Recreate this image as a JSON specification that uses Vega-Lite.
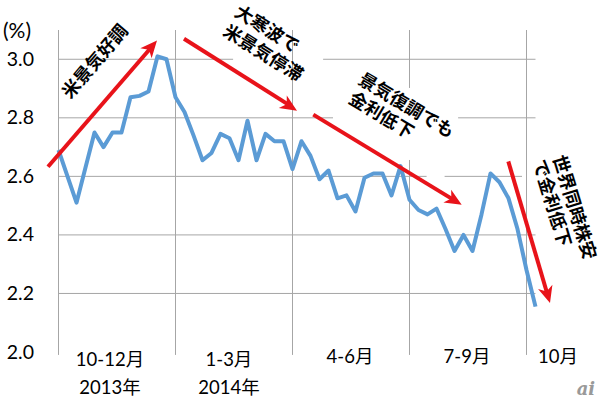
{
  "$schema": "https://vega.github.io/schema/vega-lite/v6.json",
  "width": 477,
  "height": 322,
  "autosize": {"type": "none"},
  "padding": {"left": 58.5, "top": 30, "right": 64.5, "bottom": 55},
  "background": "white",
  "config": {
    "view": {"stroke": null},
    "axisX": {"disable": true},
    "axisY": {
      "grid": false, "domain": false, "ticks": false,
      "labelPadding": 25, "labelFont": "Lato", "labelFontSize": 19.5, "labelColor": "#000000"
    }
  },
  "datasets": {
    "yields": [
      {"week": 0, "pct": 2.69}, {"week": 1, "pct": 2.60}, {"week": 2, "pct": 2.51}, {"week": 3, "pct": 2.63},
      {"week": 4, "pct": 2.75}, {"week": 5, "pct": 2.70}, {"week": 6, "pct": 2.75}, {"week": 7, "pct": 2.75},
      {"week": 8, "pct": 2.87}, {"week": 9, "pct": 2.875}, {"week": 10, "pct": 2.89}, {"week": 11, "pct": 3.01},
      {"week": 12, "pct": 3.00}, {"week": 13, "pct": 2.87}, {"week": 14, "pct": 2.82}, {"week": 15, "pct": 2.74},
      {"week": 16, "pct": 2.655}, {"week": 17, "pct": 2.68}, {"week": 18, "pct": 2.745}, {"week": 19, "pct": 2.73},
      {"week": 20, "pct": 2.655}, {"week": 21, "pct": 2.79}, {"week": 22, "pct": 2.655}, {"week": 23, "pct": 2.745},
      {"week": 24, "pct": 2.72}, {"week": 25, "pct": 2.72}, {"week": 26, "pct": 2.625}, {"week": 27, "pct": 2.72},
      {"week": 28, "pct": 2.67}, {"week": 29, "pct": 2.59}, {"week": 30, "pct": 2.62}, {"week": 31, "pct": 2.525},
      {"week": 32, "pct": 2.535}, {"week": 33, "pct": 2.48}, {"week": 34, "pct": 2.595}, {"week": 35, "pct": 2.61},
      {"week": 36, "pct": 2.61}, {"week": 37, "pct": 2.535}, {"week": 38, "pct": 2.635}, {"week": 39, "pct": 2.52},
      {"week": 40, "pct": 2.485}, {"week": 41, "pct": 2.47}, {"week": 42, "pct": 2.49}, {"week": 43, "pct": 2.42},
      {"week": 44, "pct": 2.345}, {"week": 45, "pct": 2.40}, {"week": 46, "pct": 2.345}, {"week": 47, "pct": 2.47},
      {"week": 48, "pct": 2.61}, {"week": 49, "pct": 2.58}, {"week": 50, "pct": 2.525}, {"week": 51, "pct": 2.42},
      {"week": 52, "pct": 2.28}, {"week": 53, "pct": 2.155}
    ],
    "hgrid": [
      {"level": 3.0, "from": 0, "to": 19.4}, {"level": 3.0, "from": 29.4, "to": 53},
      {"level": 2.8, "from": 0, "to": 30.5}, {"level": 2.8, "from": 44.4, "to": 53},
      {"level": 2.6, "from": 0, "to": 40.9}, {"level": 2.6, "from": 42.9, "to": 51.5},
      {"level": 2.4, "from": 0, "to": 53},
      {"level": 2.2, "from": 0, "to": 53}
    ],
    "vgrid": [
      {"pos": 0, "lo": 1.99, "hi": 3.1},
      {"pos": 13, "lo": 1.99, "hi": 3.1},
      {"pos": 26, "lo": 1.99, "hi": 3.1},
      {"pos": 39, "lo": 1.99, "hi": 2.656}, {"pos": 39, "lo": 2.902, "hi": 3.1},
      {"pos": 52, "lo": 1.99, "hi": 3.1}
    ],
    "arrows": [
      {"id": 1, "x1": -1.167, "y1": 2.633, "x2": 10.367, "y2": 3.043, "tx": 10.944, "ty": 3.064},
      {"id": 2, "x1": 13.944, "y1": 3.070, "x2": 25.856, "y2": 2.839, "tx": 26.5, "ty": 2.824},
      {"id": 3, "x1": 28.311, "y1": 2.811, "x2": 44.044, "y2": 2.517, "tx": 44.8, "ty": 2.503},
      {"id": 4, "x1": 49.978, "y1": 2.651, "x2": 54.356, "y2": 2.194, "tx": 54.611, "ty": 2.167}
    ],
    "cats": [
      {"label": "10-12月", "x": 5.72, "y": 1.974},
      {"label": "2013年", "x": 5.72, "y": 1.878},
      {"label": "1-3月", "x": 18.94, "y": 1.974},
      {"label": "2014年", "x": 18.94, "y": 1.878},
      {"label": "4-6月", "x": 32.39, "y": 1.984},
      {"label": "7-9月", "x": 45.39, "y": 1.984},
      {"label": "10月", "x": 55.5, "y": 1.984}
    ]
  },
  "layer": [
    {
      "data": {"name": "hgrid"},
      "mark": {"type": "rule", "color": "#a6a6a6", "strokeWidth": 1},
      "encoding": {
        "x": {"field": "from", "type": "quantitative", "scale": {"domain": [0, 53], "nice": false, "zero": false}, "axis": null},
        "x2": {"field": "to"},
        "y": {
          "field": "level", "type": "quantitative",
          "scale": {"domain": [2, 3.1], "nice": false, "zero": false},
          "axis": {
            "values": [2.0, 2.2, 2.4, 2.6, 2.8, 3.0], "format": ".1f", "title": "(%)",
            "titleAngle": 0, "titleX": -56, "titleY": 1, "titleAlign": "left",
            "titleBaseline": "middle", "titleFont": "Lato", "titleFontSize": 21, "titleFontWeight": "normal",
            "titleColor": "#000000"
          }
        }
      }
    },
    {
      "data": {"name": "vgrid"},
      "mark": {"type": "rule", "color": "#a6a6a6", "strokeWidth": 1},
      "encoding": {
        "x": {"field": "pos", "type": "quantitative", "axis": null},
        "y": {"field": "lo", "type": "quantitative"},
        "y2": {"field": "hi"}
      }
    },
    {
      "data": {"name": "yields"},
      "mark": {"type": "line", "color": "#5b9bd5", "strokeWidth": 4, "strokeJoin": "round"},
      "encoding": {
        "x": {"field": "week", "type": "quantitative", "axis": null},
        "y": {"field": "pct", "type": "quantitative"}
      }
    },
    {
      "data": {"name": "arrows"},
      "mark": {"type": "rule", "color": "#e8131a", "strokeWidth": 4, "strokeCap": "butt"},
      "encoding": {
        "x": {"field": "x1", "type": "quantitative", "axis": null},
        "y": {"field": "y1", "type": "quantitative"},
        "x2": {"field": "x2"},
        "y2": {"field": "y2"}
      }
    },
    {
      "data": {"name": "arrows"},
      "transform": [{"filter": "datum.id == 1"}],
      "mark": {"type": "point", "shape": "M0,0L0.8,1.8L0,1.3L-0.8,1.8Z", "size": 350, "filled": true, "opacity": 1, "strokeWidth": 0, "color": "#e8131a", "angle": 40.9},
      "encoding": {"x": {"field": "tx", "type": "quantitative", "axis": null}, "y": {"field": "ty", "type": "quantitative"}}
    },
    {
      "data": {"name": "arrows"},
      "transform": [{"filter": "datum.id == 2"}],
      "mark": {"type": "point", "shape": "M0,0L0.8,1.8L0,1.3L-0.8,1.8Z", "size": 350, "filled": true, "opacity": 1, "strokeWidth": 0, "color": "#e8131a", "angle": 122.3},
      "encoding": {"x": {"field": "tx", "type": "quantitative", "axis": null}, "y": {"field": "ty", "type": "quantitative"}}
    },
    {
      "data": {"name": "arrows"},
      "transform": [{"filter": "datum.id == 3"}],
      "mark": {"type": "point", "shape": "M0,0L0.8,1.8L0,1.3L-0.8,1.8Z", "size": 350, "filled": true, "opacity": 1, "strokeWidth": 0, "color": "#e8131a", "angle": 121.2},
      "encoding": {"x": {"field": "tx", "type": "quantitative", "axis": null}, "y": {"field": "ty", "type": "quantitative"}}
    },
    {
      "data": {"name": "arrows"},
      "transform": [{"filter": "datum.id == 4"}],
      "mark": {"type": "point", "shape": "M0,0L0.8,1.8L0,1.3L-0.8,1.8Z", "size": 350, "filled": true, "opacity": 1, "strokeWidth": 0, "color": "#e8131a", "angle": 163.6},
      "encoding": {"x": {"field": "tx", "type": "quantitative", "axis": null}, "y": {"field": "ty", "type": "quantitative"}}
    },
    {
      "data": {"name": "cats"},
      "mark": {"type": "text", "font": "Lato, Noto Sans CJK JP", "fontSize": 18.5, "color": "#000000", "align": "center", "baseline": "middle"},
      "encoding": {
        "x": {"field": "x", "type": "quantitative", "axis": null},
        "y": {"field": "y", "type": "quantitative"},
        "text": {"field": "label"}
      }
    },
    {
      "data": {"values": [{"t": "米景気好調", "x": 4.17, "y": 2.99}]},
      "mark": {"type": "text", "font": "Noto Sans CJK JP", "fontWeight": "bold", "fontSize": 18, "color": "#000000", "align": "center", "baseline": "middle", "angle": -49.5},
      "encoding": {"x": {"field": "x", "type": "quantitative", "axis": null}, "y": {"field": "y", "type": "quantitative"}, "text": {"field": "t"}}
    },
    {
      "data": {"values": [{"t": "大寒波で", "x": 23.1, "y": 3.1}, {"t": "米景気停滞", "x": 22.67, "y": 3.018}]},
      "mark": {"type": "text", "font": "Noto Sans CJK JP", "fontWeight": "bold", "fontSize": 18, "color": "#000000", "align": "center", "baseline": "middle", "angle": 32},
      "encoding": {"x": {"field": "x", "type": "quantitative", "axis": null}, "y": {"field": "y", "type": "quantitative"}, "text": {"field": "t"}}
    },
    {
      "data": {"values": [{"t": "景気復調でも", "x": 38.6, "y": 2.839}, {"t": "金利低下", "x": 35.8, "y": 2.805}]},
      "mark": {"type": "text", "font": "Noto Sans CJK JP", "fontWeight": "bold", "fontSize": 18, "color": "#000000", "align": "center", "baseline": "middle", "angle": 31},
      "encoding": {"x": {"field": "x", "type": "quantitative", "axis": null}, "y": {"field": "y", "type": "quantitative"}, "text": {"field": "t"}}
    },
    {
      "data": {"values": [{"t": "世界同時株安", "x": 57.2, "y": 2.493}, {"t": "で金利低下", "x": 54.7, "y": 2.507}]},
      "mark": {"type": "text", "font": "Noto Sans CJK JP", "fontWeight": "bold", "fontSize": 18, "color": "#000000", "align": "center", "baseline": "middle", "angle": 73},
      "encoding": {"x": {"field": "x", "type": "quantitative", "axis": null}, "y": {"field": "y", "type": "quantitative"}, "text": {"field": "t"}}
    },
    {
      "data": {"values": [{"t": "ai", "x": 58.6, "y": 1.87}]},
      "mark": {"type": "text", "font": "DejaVu Serif", "fontStyle": "italic", "fontWeight": "bold", "fontSize": 18, "color": "#999999", "align": "center", "baseline": "middle"},
      "encoding": {"x": {"field": "x", "type": "quantitative", "axis": null}, "y": {"field": "y", "type": "quantitative"}, "text": {"field": "t"}}
    }
  ]
}
